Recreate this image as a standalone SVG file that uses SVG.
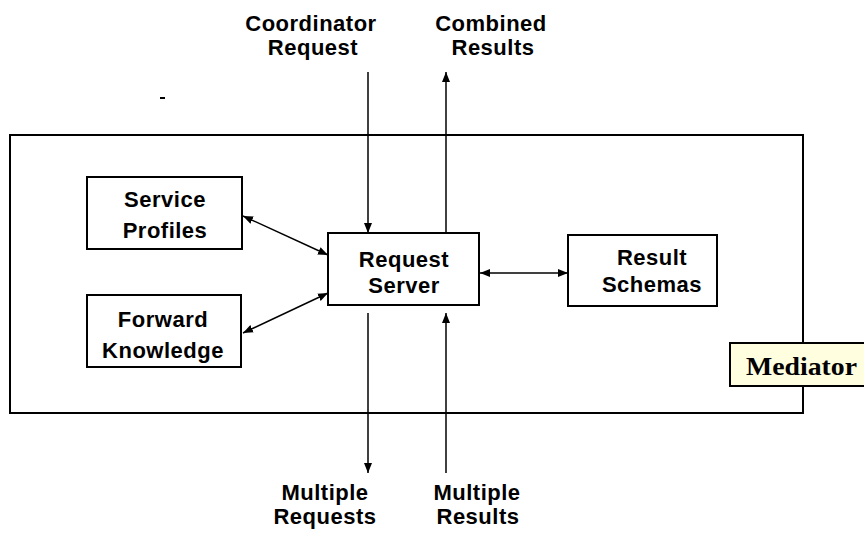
<svg xmlns="http://www.w3.org/2000/svg" width="864" height="541" viewBox="0 0 864 541">
<style>
.box{fill:#fff;stroke:#000;stroke-width:2}
.lbl{font-family:"Liberation Sans",Arial,sans-serif;font-weight:bold;font-size:22px;letter-spacing:0.5px;text-anchor:middle;fill:#000}
.con{stroke:#000;stroke-width:1.5;fill:none}
.med{font-family:"Liberation Serif","Times New Roman",serif;font-weight:bold;font-size:25px;fill:#000}
</style>
<defs>
<marker id="ah" viewBox="0 0 10 10" refX="10" refY="5" markerWidth="10" markerHeight="10" markerUnits="userSpaceOnUse" orient="auto-start-reverse">
<path d="M0,1 L10,5 L0,9 z" fill="#000"/>
</marker>
</defs>
<rect width="864" height="541" fill="#fff"/>
<g id="mediator-frame">
<rect x="10" y="135" width="793" height="278" fill="none" stroke="#000" stroke-width="2"/>
</g>
<rect x="160" y="97" width="5" height="2" fill="#000"/>
<g id="connectors">
<line class="con" x1="368" y1="72" x2="368" y2="233" marker-end="url(#ah)"/>
<line class="con" x1="446" y1="233" x2="446" y2="72" marker-end="url(#ah)"/>
<line class="con" x1="368" y1="313" x2="368" y2="473" marker-end="url(#ah)"/>
<line class="con" x1="446" y1="473" x2="446" y2="313" marker-end="url(#ah)"/>
<line class="con" x1="243" y1="216" x2="328" y2="255" marker-start="url(#ah)" marker-end="url(#ah)"/>
<line class="con" x1="243" y1="333" x2="328" y2="293" marker-start="url(#ah)" marker-end="url(#ah)"/>
<line class="con" x1="480" y1="273" x2="568" y2="273" marker-start="url(#ah)" marker-end="url(#ah)"/>
</g>
<g id="service-profiles">
<rect class="box" x="87" y="177" width="155" height="72"/>
<text class="lbl" x="165" y="207">Service</text>
<text class="lbl" x="165" y="238">Profiles</text>
</g>
<g id="forward-knowledge">
<rect class="box" x="87" y="295" width="154" height="72"/>
<text class="lbl" x="163" y="327">Forward</text>
<text class="lbl" x="163" y="358">Knowledge</text>
</g>
<g id="request-server">
<rect class="box" x="328" y="233" width="151" height="72"/>
<text class="lbl" x="404" y="267">Request</text>
<text class="lbl" x="404" y="293">Server</text>
</g>
<g id="result-schemas">
<rect class="box" x="568" y="235" width="149" height="71"/>
<text class="lbl" x="652" y="265">Result</text>
<text class="lbl" x="652" y="292">Schemas</text>
</g>
<g id="mediator-label">
<rect x="730" y="343" width="140" height="43" fill="#ffffe0" stroke="#000" stroke-width="2"/>
<text class="med" x="746" y="375" textLength="111" lengthAdjust="spacingAndGlyphs">Mediator</text>
</g>
<g id="coordinator-request">
<text class="lbl" x="311" y="31">Coordinator</text>
<text class="lbl" x="313" y="55">Request</text>
</g>
<g id="combined-results">
<text class="lbl" x="491" y="31">Combined</text>
<text class="lbl" x="493" y="55">Results</text>
</g>
<g id="multiple-requests">
<text class="lbl" x="325" y="500">Multiple</text>
<text class="lbl" x="325" y="524">Requests</text>
</g>
<g id="multiple-results">
<text class="lbl" x="477" y="500">Multiple</text>
<text class="lbl" x="478" y="524">Results</text>
</g>
</svg>
